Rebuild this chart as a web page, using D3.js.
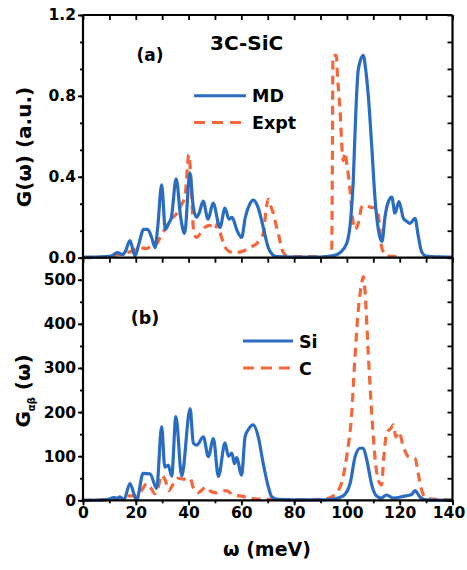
<!DOCTYPE html>
<html><head><meta charset="utf-8">
<script src="https://cdn.jsdelivr.net/npm/d3@7"></script>
<style>
html,body{margin:0;padding:0;background:#fff;}
text{font-family:"DejaVu Sans","Liberation Sans",Arial,sans-serif;font-weight:bold;fill:#000;}
</style></head>
<body><svg id="c" width="467" height="570"></svg>
<script>
// ---- data ----
const mdOmega = [0,5,9,11,13,15,16,17.8,19.7,21,23,24.5,26,27.3,28.3,29.8,31.2,32.5,33.5,35.3,37,38.5,40.5,41.7,42.9,44,45.5,47.4,49.3,51.9,53.8,55.3,56.5,58.2,60.1,61.5,63,64.5,66.3,68.3,70.2,71.5,73.4,80,90,95,97.4,99.9,101.5,102.4,103.1,104.3,106.2,107.2,108.1,109.4,110.6,111.9,113.3,114.4,115.7,117,118.2,119.7,121.4,122.6,123.9,125.8,127,128.3,130,135,140];
const mdG     = [0.003,0.003,0.005,0.01,0.025,0.015,0.03,0.085,0.008,0.06,0.14,0.14,0.1,0.05,0.15,0.36,0.14,0.17,0.2,0.39,0.2,0.12,0.42,0.26,0.2,0.22,0.28,0.19,0.27,0.15,0.245,0.19,0.2,0.14,0.10,0.2,0.26,0.285,0.25,0.15,0.05,0.02,0.005,0.003,0.003,0.01,0.025,0.07,0.2,0.38,0.63,0.93,1.0,0.92,0.8,0.55,0.3,0.14,0.08,0.2,0.277,0.3,0.22,0.277,0.195,0.18,0.17,0.195,0.11,0.03,0.008,0.004,0.003];

const exOmega = [0,10,12,15,18,21.6,24,26,28,29.2,31,33.6,35,36.8,38.7,39.6,40,40.6,41.2,42,43,44.5,46.2,48,50,51,52.5,54.5,57,60,62,64,65.8,67,68.3,69.5,70.2,71,72.1,73,74,75.3,77,80,90,94.2,94.5,94.7,96.0,96.4,97,97.4,98,98.6,99.3,99.9,101.2,101.8,103,104.3,105.6,107,108.8,111.3,112.5,113.1,115,119];
const exG     = [0,0.003,0.01,0.02,0.03,0.05,0.045,0.06,0.07,0.1,0.14,0.195,0.21,0.25,0.31,0.45,0.51,0.45,0.3,0.12,0.1,0.12,0.15,0.16,0.14,0.17,0.1,0.04,0.025,0.03,0.04,0.055,0.07,0.09,0.12,0.25,0.29,0.26,0.22,0.17,0.12,0.045,0.01,0.005,0.005,0.008,0.5,1.0,1.0,0.9,0.8,0.73,0.57,0.48,0.52,0.47,0.33,0.24,0.14,0.17,0.25,0.26,0.25,0.245,0.14,0.055,0.008,0.005];

const siOmega = [0,8,10,11.5,13,14,15.5,17.8,20.3,22.8,25.4,27.9,29.8,31,32.3,33.6,35.2,37.4,40.6,41.8,43.1,45.6,47.5,49.4,51.3,53.8,55.1,56.4,57.4,58.2,60.1,61.4,62.6,64.5,66.4,68.3,70.2,71.5,74,80,90,95,98.6,101.2,103.1,105,106.2,107.5,109.4,111.3,113,115,117.6,121.4,124.5,125.8,127.7,130,140];
const siG     = [0,1,3,6,5,8,1,38,0,61,60,27,167,75,80,55,190,55,208,130,125,144,99,140,54,130,100,107,83,97,57,144,160,171,144,83,31,8,2,1,1,3,10,38,99,118,118,92,35,9,5,12,5,9,13,22,7,1,0];

const cOmega  = [0,10,14,16.6,19,21.6,23,24.1,25.5,27.3,28.5,29.8,31.2,32.5,34,36,38,40.6,41.7,43.5,46.7,48.5,50.5,54.3,57,59.5,62,65.8,70,80,90,93.6,97.4,99.9,101.8,103.1,104.3,105.6,106.2,106.9,108.1,109.4,110.6,111.9,113.1,114,115,116.6,117.6,118.5,119.7,121.4,123.3,125.8,127,128.3,130.2,134,140];
const cG      = [0,2,5,10,10,17,30,38,30,15,30,57,45,22,35,50,48,50,30,17,30,20,17,22,12,10,7,3,2,1,2,6,30,99,197,330,431,492,507,471,330,197,99,46,35,99,152,163,171,144,155,121,99,95,61,23,4,2,1];

const xTicks   = [0,20,40,60,80,100,120,140];
const yTicksA  = [0.0,0.4,0.8,1.2];
const yTicksB  = [0,100,200,300,400,500];

// ---- layout ----
const svg = d3.select("#c");
const L = 83, R = 452.5, T = 15, M = 257.7, B = 500.3;
const blue = "#2a6cc0", orange = "#f3673a";

const x = d3.scaleLinear().domain([0,140]).range([L,R]);
const yA = d3.scaleLinear().domain([0,1.2]).range([M,T]);
const yB = d3.scaleLinear().domain([0,550]).range([B,M]);

function drawCurve(xs, ys, yScale, color, dashed){
  const pts = xs.map((v,i)=>[v, ys[i]]);
  const line = d3.line().x(d=>x(d[0])).y(d=>yScale(d[1])).curve(d3.curveMonotoneX);
  svg.append("path").attr("d", line(pts)).attr("fill","none")
    .attr("stroke", color).attr("stroke-width", 3.2)
    .attr("stroke-linejoin","round")
    .attr("stroke-dasharray", dashed ? "9,6" : null);
}

drawCurve(exOmega, exG, yA, orange, true);
drawCurve(mdOmega, mdG, yA, blue, false);
drawCurve(cOmega, cG, yB, orange, true);
drawCurve(siOmega, siG, yB, blue, false);

function styleAxis(g){
  g.selectAll(".domain").remove();
  g.selectAll("line").attr("stroke","#000").attr("stroke-width",1.8);
  g.selectAll("text").style("font-size","15.5px").style("font-weight","bold").attr("fill","#000");
}
const xMinor = d3.range(0,141,10);

// top panel axes
const aMinor = d3.range(0,1.2001,0.4/3);
svg.append("g").attr("transform",`translate(${L},0)`).call(d3.axisLeft(yA).tickValues(aMinor).tickSize(3).tickFormat("")).call(styleAxis);
svg.append("g").attr("transform",`translate(${L},0)`).call(d3.axisLeft(yA).tickValues(yTicksA).tickSize(5).tickPadding(2).tickFormat(d3.format(".1f"))).call(styleAxis);
svg.append("g").attr("transform",`translate(${R},0)`).call(d3.axisRight(yA).tickValues(aMinor).tickSize(-5).tickFormat("")).call(styleAxis);
svg.append("g").attr("transform",`translate(0,${T})`).call(d3.axisTop(x).tickValues(xMinor).tickSize(-5).tickFormat("")).call(styleAxis);
svg.append("g").attr("transform",`translate(0,${M})`).call(d3.axisBottom(x).tickValues(xMinor).tickSize(5).tickFormat("")).call(styleAxis);

// bottom panel axes
const bMinor = d3.range(0,551,50);
svg.append("g").attr("transform",`translate(${L},0)`).call(d3.axisLeft(yB).tickValues(bMinor).tickSize(3).tickFormat("")).call(styleAxis);
svg.append("g").attr("transform",`translate(${L},0)`).call(d3.axisLeft(yB).tickValues(yTicksB).tickSize(5).tickPadding(2)).call(styleAxis);
svg.append("g").attr("transform",`translate(${R},0)`).call(d3.axisRight(yB).tickValues(bMinor).tickSize(-5).tickFormat("")).call(styleAxis);
svg.append("g").attr("transform",`translate(0,${B})`).call(d3.axisBottom(x).tickValues(xMinor).tickSize(3).tickFormat("")).call(styleAxis);
const xAxisB = svg.append("g").attr("transform",`translate(0,${B})`).call(d3.axisBottom(x).tickValues(xTicks).tickSize(5).tickPadding(2)).call(styleAxis);
xAxisB.selectAll("text").filter(d=>d===140).attr("dx",-4);

// frame lines
const frame = svg.append("g").attr("stroke","#000").attr("stroke-width",2.2);
frame.append("line").attr("x1",L).attr("x2",L).attr("y1",T).attr("y2",B);
frame.append("line").attr("x1",R).attr("x2",R).attr("y1",T).attr("y2",B);
frame.append("line").attr("x1",L).attr("x2",R).attr("y1",T).attr("y2",T);
frame.append("line").attr("x1",L).attr("x2",R).attr("y1",M).attr("y2",M);
frame.append("line").attr("x1",L).attr("x2",R).attr("y1",B).attr("y2",B);

// titles
svg.append("text").attr("transform","translate(31,147) rotate(-90)").attr("text-anchor","middle").style("font-size","20px").text("G(ω) (a.u.)");
const gb = svg.append("text").attr("transform","translate(30,391) rotate(-90)").attr("text-anchor","middle").style("font-size","20px");
gb.append("tspan").text("G");
gb.append("tspan").attr("dy",5).style("font-size","10px").text("αβ");
gb.append("tspan").attr("dy",-5).text(" (ω)");
svg.append("text").attr("x",267).attr("y",556).attr("text-anchor","middle").style("font-size","19px").text("ω (meV)");

svg.append("text").attr("x",150).attr("y",61).attr("text-anchor","middle").style("font-size","17px").text("(a)");
svg.append("text").attr("x",210).attr("y",50).style("font-size","20px").text("3C-SiC");
svg.append("text").attr("x",145).attr("y",324).attr("text-anchor","middle").style("font-size","17.5px").text("(b)");

// legends
function legend(x1,x2,y,color,dashed,label){
  svg.append("line").attr("x1",x1).attr("x2",x2).attr("y1",y).attr("y2",y)
    .attr("stroke",color).attr("stroke-width",3).attr("stroke-dasharray",dashed?"11,7":null);
  svg.append("text").attr("x",x2+6).attr("y",y+6.5).style("font-size","17.5px").text(label);
}
legend(194,246,95.7,blue,false,"MD");
legend(194,246,122.5,orange,true,"Expt");
legend(243,293,341,blue,false,"Si");
legend(243,293,368,orange,true,"C");
</script></body></html>
